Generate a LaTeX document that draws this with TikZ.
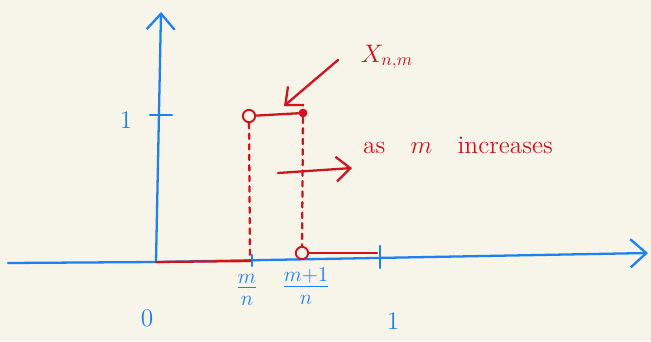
\documentclass[tikz,border=0pt]{standalone}
\usetikzlibrary{calc,positioning,arrows.meta}
\definecolor{paper}{HTML}{F7F4E9}
\definecolor{penblue}{HTML}{1F80F0}
\definecolor{penred}{HTML}{D2121C}
\tikzset{
  axis/.style={penblue, line width=1.3pt, line cap=round},
  redline/.style={penred, line width=1.3pt, line cap=round},
  opendot/.style={draw=penred, line width=1.1pt, circle, minimum width=7pt, inner sep=0pt},
  fulldot/.style={fill=penred, circle, minimum width=5pt, inner sep=0pt},
  bluelabel/.style={penblue, font=\Large},
  redlabel/.style={penred, font=\Large},
}

\begin{document}
\begin{tikzpicture}[x=0.02cm,y=-0.02cm]
  \fill[paper] (0,0) rectangle (651,341);
  \useasboundingbox (0,0) rectangle (651,341);

  % axes
  \coordinate (o) at (156,262);
  \coordinate (xleft) at (8,263);
  \coordinate (xright) at (648,253);
  \coordinate (ytop) at (161,12);
  \draw[axis] (xleft) -- (o);
  \draw[axis, -{Straight Barb[length=9pt, width=16pt]}] (o) -- (xright);
  \draw[axis, -{Straight Barb[length=9pt, width=16pt]}] (o) -- (ytop);

  % ticks
  \draw[axis] (150,115) -- (172,115);
  \node[bluelabel] (one y) at (126,120) {$1$};
  \draw[axis] (252,255) -- (252,266);
  \draw[axis] (380,246) -- (380,268);
  \node[bluelabel] (zero) at (147,318) {$0$};
  \node[bluelabel] (one x) at (393,321) {$1$};
  \node[bluelabel, font=\LARGE] (mn) at (247,290) {$\frac{m}{n}$};
  \node[bluelabel, font=\LARGE] (m1n) at (306,286) {$\frac{m+1}{n}$};

  %%

  \coordinate (mleft) at (250,261);
  \node[opendot] (a) at (249,116) {};
  \node[fulldot] (b) at (303,113) {};
  \node[opendot] (c) at (302,253) {};
  \coordinate (cright) at (377,253);

  \draw[redline] (a) -- (b);
  \draw[redline, dashed] (a) -- (mleft);
  \draw[redline, dashed] (b) -- (c);
  \draw[redline] (o) -- (mleft);
  \draw[redline] (c) -- (cright);

  %%

  \node[redlabel] (x) at (387,57) {$X_{n,m}$};
  \coordinate (xtail) at (338,60);
  \draw[redline, -{Straight Barb[length=8pt, width=14pt]}] (xtail) -- (284,106);

  \coordinate (shift) at (278,173);
  \draw[redline, -{Straight Barb[length=8pt, width=14pt]}] (shift) -- (352,168);
  \node[redlabel] (incr) at (458,145) {as\quad$m$\quad increases};

\end{tikzpicture}
\end{document}
